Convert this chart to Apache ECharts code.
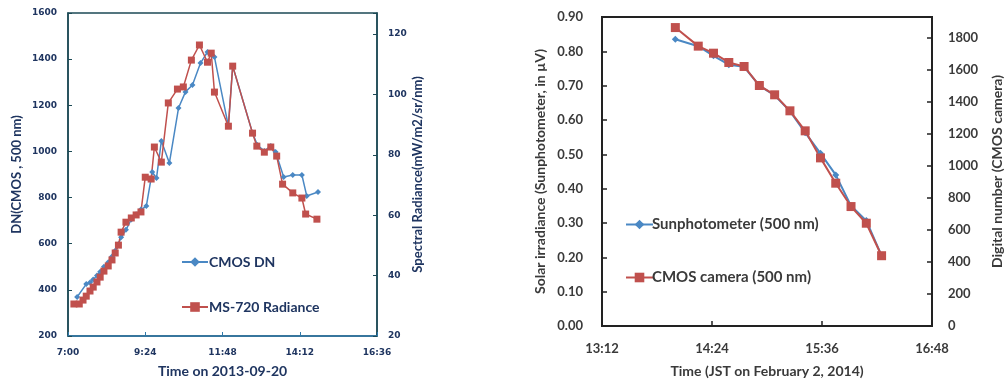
<!DOCTYPE html>
<html>
<head>
<meta charset="utf-8">
<script src="https://cdn.jsdelivr.net/npm/echarts@6/dist/echarts.min.js"></script>
<style>
  html, body { margin: 0; padding: 0; background: #fff; }
  #chart { width: 1005px; height: 383px; }
</style>
</head>
<body>
<div id="chart"></div>
<script>
// left panel, 2013-09-20
const cmosTimes = ["7:17", "7:34", "7:41", "7:47", "7:54", "8:00", "8:07", "8:15", "8:22", "8:28",
  "8:34", "8:39", "8:48", "8:58", "9:07", "9:16", "9:26", "9:37", "9:45", "9:54",
  "10:09", "10:26", "10:39", "10:52", "11:07", "11:20", "11:33", "11:59", "12:07", "12:44",
  "12:53", "13:06", "13:18", "13:27", "13:42", "13:59", "14:16", "14:25", "14:46"];
const cmosDN = [369, 425, 432, 445, 462, 478, 500, 520, 545, 570,
  598, 628, 660, 705, 728, 748, 763, 911, 885, 1045,
  950, 1188, 1258, 1288, 1383, 1431, 1409, 1110, 1370, 1080,
  1028, 1002, 1024, 998, 889, 898, 898, 807, 824];

const msTimes = ["7:11", "7:21", "7:28", "7:34", "7:41", "7:47", "7:54", "8:00", "8:07", "8:15",
  "8:22", "8:28", "8:34", "8:39", "8:48", "8:58", "9:07", "9:16", "9:24", "9:35",
  "9:41", "9:54", "10:07", "10:24", "10:35", "10:50", "11:05", "11:20", "11:27", "11:33",
  "11:59", "12:07", "12:44", "12:52", "13:06", "13:18", "13:29", "13:40", "13:59", "14:16",
  "14:23", "14:44"];
const msRadiance = [30.6, 30.6, 31.9, 33.2, 34.9, 36.2, 37.9, 39.5, 41.5, 43.2,
  45.2, 47.5, 50.1, 54.4, 57.7, 59.1, 60.1, 61.1, 72.6, 72.0,
  82.6, 77.6, 97.2, 101.8, 102.5, 111.4, 116.4, 110.7, 113.7, 100.8,
  89.5, 109.4, 87.2, 82.9, 80.9, 82.6, 79.6, 70.3, 67.4, 65.7,
  60.4, 58.7];

const leftTimeLabels = ["7:00", "9:24", "11:48", "14:12", "16:36"];

// right panel, 2014-02-02 (JST)
const jstTimes = ["14:00", "14:15", "14:25", "14:35", "14:45", "14:55", "15:05",
  "15:15", "15:25", "15:35", "15:45", "15:55", "16:05", "16:15"];
const sunphotometer = [0.835, 0.815, 0.787, 0.761, 0.755, 0.70, 0.672,
  0.626, 0.563, 0.503, 0.44, 0.35, 0.307, 0.205];
const cmosCamera = [1864, 1748, 1704, 1646, 1621, 1502, 1444,
  1344, 1219, 1050, 892, 746, 642, 439];

const rightTimeLabels = ["13:12", "14:24", "15:36", "16:48"];

const toMin = s => { const p = s.split(":"); return +p[0] * 60 + +p[1]; };
const LEFT_T0 = 7 * 60;

const navy = "#1f3560";
const dark = "#3a3a3a";
const blue = "#4a88c4";
const red = "#c0504d";
const font = "Lato";

const chart = echarts.init(document.getElementById("chart"));

chart.setOption({
  animation: false,
  textStyle: { fontFamily: font },
  grid: [
    { left: 68, top: 13, width: 309, height: 323, show: true, borderColor: "#1d4a55", borderWidth: 1.5, outerBoundsMode: "none" },
    { left: 602, top: 17, width: 330, height: 309, show: true, borderColor: "#222", borderWidth: 2, outerBoundsMode: "none" }
  ],
  legend: [
    {
      data: ["CMOS DN", "MS-720 Radiance"],
      orient: "vertical", left: 176, top: 250,
      itemWidth: 26, itemHeight: 12, itemGap: 31,
      textStyle: { fontFamily: font, fontSize: 14, fontWeight: "bold", color: navy, padding: [0, 0, 0, -4] }
    },
    {
      data: ["Sunphotometer (500 nm)", "CMOS camera (500 nm)"],
      orient: "vertical", left: 620, top: 212,
      itemWidth: 27, itemHeight: 12, itemGap: 38,
      textStyle: { fontFamily: font, fontSize: 15, fontWeight: "bold", color: dark, padding: [0, 0, 0, -6] }
    }
  ],
  xAxis: [
    {
      gridIndex: 0, type: "value", min: 0, max: 576, interval: 144,
      name: "Time on 2013-09-20", nameLocation: "middle", nameGap: 28,
      nameTextStyle: { fontFamily: font, fontSize: 14, fontWeight: "bold", color: navy },
      axisLine: { lineStyle: { color: "#2f78a8", width: 1.5 } },
      axisTick: { inside: true, length: 4, lineStyle: { color: "#2f78a8" } },
      axisLabel: { margin: 12, fontFamily: "DejaVu Sans", fontSize: 9, fontWeight: "bold", color: navy,
        formatter: v => leftTimeLabels[Math.round(v / 144)] },
      splitLine: { show: false }
    },
    {
      gridIndex: 1, type: "value", min: 792, max: 1008, interval: 72,
      name: "Time (JST on February 2, 2014)", nameLocation: "middle", nameGap: 38,
      nameTextStyle: { fontFamily: font, fontSize: 14, fontWeight: "bold", color: dark },
      axisLine: { lineStyle: { color: "#222", width: 2 } },
      axisTick: { inside: true, length: 5, lineStyle: { color: "#222", width: 1.5 } },
      axisLabel: { margin: 16, fontFamily: font, fontSize: 13, fontWeight: "bold", color: dark,
        formatter: v => rightTimeLabels[Math.round((v - 792) / 72)] },
      splitLine: { show: false }
    }
  ],
  yAxis: [
    {
      gridIndex: 0, type: "value", min: 200, max: 1600, interval: 200,
      name: "DN(CMOS , 500 nm)", nameLocation: "middle", nameGap: 45,
      nameTextStyle: { fontFamily: font, fontSize: 13, fontWeight: "bold", color: navy },
      axisLine: { show: true, lineStyle: { color: "#1d4a55", width: 1.5 } },
      axisTick: { show: true, inside: true, length: 4, lineStyle: { color: "#1d4a55" } },
      axisLabel: { margin: 11, fontFamily: "DejaVu Sans", fontSize: 9, fontWeight: "bold", color: navy,
        formatter: v => String(v) },
      splitLine: { show: false }
    },
    {
      gridIndex: 0, type: "value", position: "right", min: 20, max: 127, interval: 20,
      name: "Spectral Radiance(mW/m2/sr/nm)", nameLocation: "middle", nameGap: 34,
      nameTextStyle: { fontFamily: font, fontSize: 13, fontWeight: "bold", color: navy },
      axisLine: { show: true, lineStyle: { color: "#1d4a55", width: 1.5 } },
      axisTick: { show: true, inside: true, length: 4, lineStyle: { color: "#1d4a55" } },
      axisLabel: { margin: 11, fontFamily: "DejaVu Sans", fontSize: 9, fontWeight: "bold", color: navy,
        formatter: v => (v % 20 === 0 ? String(v) : "") },
      splitLine: { show: false }
    },
    {
      gridIndex: 1, type: "value", min: 0, max: 0.9, interval: 0.1,
      name: "Solar irradiance (Sunphotometer, in µV)", nameLocation: "middle", nameGap: 55,
      nameTextStyle: { fontFamily: font, fontSize: 14, fontWeight: "bold", color: dark },
      axisLine: { show: true, lineStyle: { color: "#222", width: 2 } },
      axisTick: { show: true, inside: true, length: 5, lineStyle: { color: "#222", width: 1.5 } },
      axisLabel: { margin: 19, fontFamily: font, fontSize: 13, fontWeight: "bold", color: dark,
        formatter: v => v.toFixed(2) },
      splitLine: { show: false }
    },
    {
      gridIndex: 1, type: "value", position: "right", min: 0, max: 1930, interval: 200,
      name: "Digital number (CMOS camera)", nameLocation: "middle", nameGap: 58,
      nameTextStyle: { fontFamily: font, fontSize: 14, fontWeight: "bold", color: dark },
      axisLine: { show: true, lineStyle: { color: "#222", width: 2 } },
      axisTick: { show: true, inside: true, length: 5, lineStyle: { color: "#222", width: 1.5 } },
      axisLabel: { margin: 16, fontFamily: font, fontSize: 13, fontWeight: "bold", color: dark,
        formatter: v => (v % 200 === 0 ? String(v) : "") },
      splitLine: { show: false }
    }
  ],
  series: [
    {
      name: "CMOS DN", type: "line", xAxisIndex: 0, yAxisIndex: 0,
      data: cmosTimes.map((t, i) => [toMin(t) - LEFT_T0, cmosDN[i]]),
      symbol: "diamond", symbolSize: 6, color: blue,
      lineStyle: { width: 1.5, color: blue }, itemStyle: { color: blue }
    },
    {
      name: "MS-720 Radiance", type: "line", xAxisIndex: 0, yAxisIndex: 1,
      data: msTimes.map((t, i) => [toMin(t) - LEFT_T0, msRadiance[i]]),
      symbol: "rect", symbolSize: 7, color: red,
      lineStyle: { width: 1.5, color: red }, itemStyle: { color: red }
    },
    {
      name: "Sunphotometer (500 nm)", type: "line", xAxisIndex: 1, yAxisIndex: 2,
      data: jstTimes.map((t, i) => [toMin(t), sunphotometer[i]]),
      symbol: "diamond", symbolSize: 7, color: blue,
      lineStyle: { width: 2, color: blue }, itemStyle: { color: blue }
    },
    {
      name: "CMOS camera (500 nm)", type: "line", xAxisIndex: 1, yAxisIndex: 3,
      data: jstTimes.map((t, i) => [toMin(t), cmosCamera[i]]),
      symbol: "rect", symbolSize: 9, color: red,
      lineStyle: { width: 2, color: red }, itemStyle: { color: red }
    }
  ]
});
</script>
</body>
</html>
